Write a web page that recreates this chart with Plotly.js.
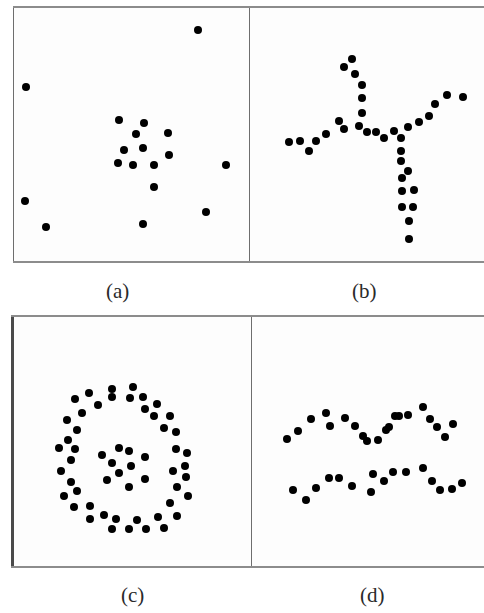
<!DOCTYPE html>
<html>
<head>
<meta charset="utf-8">
<script src="https://cdn.plot.ly/plotly-3.0.1.min.js"></script>
<style>html,body{margin:0;padding:0;background:#fff;}#chart{width:484px;height:613px;}</style>
</head>
<body>
<div id="chart"></div>
<script>
// Panel-local coordinates (x to the right, y downward)
const panelLabels = ["(a)", "(b)", "(c)", "(d)"];

// (a) random scatter with a central cluster
const aX = [184, 12, 105, 130, 122, 154, 110, 129, 155, 104, 119, 140, 212, 140, 11, 192, 32, 129];
const aY = [22, 79, 112, 115, 126, 125, 142, 140, 147, 155, 157, 157, 157, 179, 193, 204, 219, 216];

// (b) branching / star-shaped structure
const bX = [102, 94, 105, 112, 112, 112, 89, 94, 109, 117, 126, 134, 144, 151, 158, 169, 179, 185, 197, 213,
            39, 50, 59, 66, 76, 151, 151, 158, 152, 152, 164, 152, 163, 159, 159];
const bY = [51, 59, 66, 77, 90, 105, 113, 121, 118, 124, 124, 130, 123, 130, 119, 114, 108, 96, 87, 89,
            134, 133, 143, 133, 126, 143, 153, 163, 170, 183, 182, 199, 199, 213, 231];

// (c) ring with inner cluster
const cOuterX = [119, 98, 98, 75, 61, 84, 116, 129, 143, 131, 140, 156, 68, 53, 63, 150, 162, 54, 45, 61, 162, 173,
                 57, 171, 47, 159, 172, 57, 63, 163, 50, 174, 156, 60, 76, 90, 76, 102, 123, 144, 163, 98, 115, 132, 150];
const cOuterY = [70, 72, 80, 76, 82, 88, 81, 80, 87, 92, 99, 99, 96, 103, 113, 111, 115, 123, 131, 132, 132, 136,
                 143, 149, 154, 154, 160, 165, 174, 170, 179, 179, 186, 190, 189, 198, 202, 202, 203, 200, 199, 212, 212, 212, 211];
const cInnerX = [105, 115, 88, 131, 98, 117, 105, 93, 131, 115];
const cInnerY = [131, 134, 138, 140, 146, 149, 156, 163, 162, 170];

// (d) two wavy bands
const dUpperX = [35, 46, 59, 74, 78, 93, 103, 111, 115, 126, 134, 137, 143, 147, 156, 171, 178, 185, 193, 201];
const dUpperY = [122, 114, 102, 96, 109, 101, 109, 119, 124, 123, 113, 110, 99, 99, 98, 90, 102, 110, 120, 107];
const dLowerX = [41, 54, 64, 77, 87, 100, 119, 121, 132, 141, 154, 171, 180, 188, 200, 210];
const dLowerY = [173, 183, 171, 161, 161, 169, 175, 157, 164, 155, 155, 151, 164, 173, 172, 166];

const W = 484, H = 613;
// panel frames in pixels: [left, right, top, bottom]
const frames = [[14, 250, 8, 261], [250, 484, 8, 261], [14, 252, 317, 566], [252, 484, 317, 566]];
const labelPos = [[117, 291], [364, 291], [132, 595], [372, 595]];

const marker = {color: "#000", size: 8};
function tr(x, y, i) {
  return {x: x, y: y, type: "scatter", mode: "markers", marker: marker,
          xaxis: i === 0 ? "x" : "x" + (i + 1), yaxis: i === 0 ? "y" : "y" + (i + 1),
          hoverinfo: "skip", cliponaxis: false};
}
const data = [
  tr(aX, aY, 0), tr(bX, bY, 1),
  tr(cOuterX, cOuterY, 2), tr(cInnerX, cInnerY, 2),
  tr(dUpperX, dUpperY, 3), tr(dLowerX, dLowerY, 3)
];

const layout = {
  width: W, height: H, margin: {l: 0, r: 0, t: 0, b: 0},
  paper_bgcolor: "#fff", plot_bgcolor: "#fdfdfd",
  showlegend: false, annotations: []
};
frames.forEach(function (f, i) {
  const k = i === 0 ? "" : String(i + 1);
  const leftDark = i === 2;
  layout["xaxis" + k] = {
    domain: [f[0] / W, f[1] / W], range: [0, f[1] - f[0]],
    showgrid: false, zeroline: false, showticklabels: false, ticks: "",
    showline: true, mirror: true, linecolor: "#8c8c8c", linewidth: 2,
    anchor: "y" + k, fixedrange: true
  };
  layout["yaxis" + k] = {
    domain: [1 - f[3] / H, 1 - f[2] / H], range: [f[3] - f[2], 0],
    showgrid: false, zeroline: false, showticklabels: false, ticks: "",
    showline: true, mirror: false, linecolor: leftDark ? "#4a4a4a" : "#6e6e6e",
    linewidth: leftDark ? 3 : 1.5, anchor: "x" + k, fixedrange: true
  };
  layout.annotations.push({
    text: panelLabels[i], xref: "paper", yref: "paper",
    x: labelPos[i][0] / W, y: 1 - labelPos[i][1] / H,
    xanchor: "center", yanchor: "middle", showarrow: false,
    font: {family: "'Liberation Serif', 'DejaVu Serif', serif", size: 21, color: "#2a2a2a"}
  });
});

Plotly.newPlot("chart", data, layout, {displayModeBar: false, staticPlot: true});
</script>
</body>
</html>
